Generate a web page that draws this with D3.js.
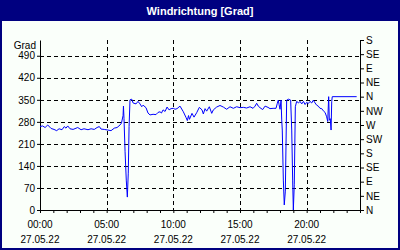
<!DOCTYPE html>
<html>
<head>
<meta charset="utf-8">
<script src="https://cdn.jsdelivr.net/npm/d3@7"></script>
<style>
  body { margin: 0; }
  svg { display: block; }
</style>
</head>
<body>
<svg id="chart" width="400" height="250"></svg>
<script>
const W = 400, H = 250;
const LEFT = 40, RIGHT = 360, TOP = 40, BOTTOM = 210;
const FONT = "'Liberation Sans', Arial, sans-serif";

const title = "Windrichtung [Grad]";
const unitLabel = "Grad";
const gradTicks = [0, 70, 140, 210, 280, 350, 420, 490];
const compassTicks = [0, 45, 90, 135, 180, 225, 270, 315, 360, 405, 450, 495, 540];
const compassNames = ["N", "NE", "E", "SE", "S", "SW", "W", "NW", "N", "NE", "E", "SE", "S"];
const timeTicks = [0, 5, 10, 15, 20];
const timeLabels = ["00:00", "05:00", "10:00", "15:00", "20:00"];
const dateLabel = "27.05.22";

// hours since midnight
const hours = [
  0, 0.2, 0.38, 0.58, 0.83, 1.05, 1.25, 1.43, 1.65, 1.82, 1.95, 2.08, 2.25, 2.48, 2.83,
  3.08, 3.3, 3.6, 3.83, 4.07, 4.28, 4.45, 4.58, 4.82, 5.08, 5.33, 5.57, 5.78, 6.0, 6.11,
  6.23, 6.26, 6.3, 6.38, 6.47, 6.55, 6.62, 6.68, 6.75, 6.88, 6.98, 7.2, 7.35, 7.5, 7.63,
  7.73, 7.95, 8.1, 8.25, 8.48, 8.7, 8.85, 9.0, 9.11, 9.23, 9.38, 9.53, 9.68, 9.83, 10.0,
  10.13, 10.28, 10.5, 10.75, 10.95, 11.05, 11.14, 11.21, 11.4, 11.55, 11.75, 11.95, 12.15,
  12.25, 12.38, 12.5, 12.7, 12.88, 13.0, 13.25, 13.5, 13.75, 14.0, 14.25, 14.5, 14.75,
  15.0, 15.25, 15.5, 15.75, 15.98, 16.13, 16.25, 16.37, 16.5, 16.7, 16.88, 17.1, 17.25,
  17.48, 17.7, 17.8, 17.87, 17.93, 18.0, 18.08, 18.13, 18.17, 18.25, 18.32, 18.4, 18.5,
  18.64, 18.8, 18.88, 18.95, 19.0, 19.07, 19.15, 19.25, 19.39, 19.5, 19.63, 19.76, 19.88,
  20.0, 20.12, 20.25, 20.38, 20.5, 20.63, 20.75, 20.87, 21.0, 21.13, 21.25, 21.38, 21.5,
  21.58, 21.65, 21.7, 21.77, 21.83, 21.88, 21.92, 23.75
];
// wind direction in degrees
const direction = [
  265, 267, 262, 270, 259, 256, 252, 258, 255, 265, 260, 267, 258, 256, 262,
  255, 258, 255, 258, 256, 262, 265, 257, 256, 254, 252, 260, 262, 270, 276,
  300, 330, 290, 185, 95, 41, 117, 265, 350, 352, 340, 337, 345, 337, 328,
  333, 325, 308, 302, 304, 303, 310, 312, 308, 318, 313, 327, 318, 322, 323,
  320, 322, 330, 312, 294, 284, 300, 288, 307, 295, 309, 326, 318,
  305, 322, 314, 328, 307, 318, 327, 332, 327, 320, 328, 323, 328,
  325, 326, 324, 328, 323, 330, 339, 330, 325, 319, 330, 326, 322,
  323, 323, 339, 349, 335, 320, 349, 286, 254, 95, 16, 60, 349,
  352, 349, 254, 95, 0, 80, 328, 345, 340, 345, 337, 345, 335,
  342, 338, 345, 340, 349, 340, 333, 330, 323, 322, 315, 310, 296,
  281, 360, 285, 290, 254, 345, 360, 360
];

const svg = d3.select("#chart");

const x = d3.scaleLinear().domain([0, 24]).range([LEFT, RIGHT]);
const y = d3.scaleLinear().domain([0, 540]).range([BOTTOM, TOP]);

// frame + title bar
svg.append("rect").attr("width", W).attr("height", H).attr("fill", "#000080");
svg.append("rect").attr("x", 2).attr("y", 21).attr("width", W - 4).attr("height", H - 23)
  .attr("fill", "#fafffa");
svg.append("text")
  .attr("x", W / 2).attr("y", 15)
  .attr("text-anchor", "middle")
  .attr("fill", "white")
  .style("font", `bold 11px ${FONT}`)
  .text(title);

// grid
const grid = svg.append("g")
  .attr("stroke", "black")
  .attr("stroke-dasharray", "4,3")
  .attr("shape-rendering", "crispEdges");

grid.selectAll("line.h")
  .data(gradTicks.filter(d => d > 0))
  .join("line")
  .attr("x1", LEFT).attr("x2", RIGHT)
  .attr("y1", d => Math.round(y(d)) + 0.5)
  .attr("y2", d => Math.round(y(d)) + 0.5);

grid.selectAll("line.v")
  .data(timeTicks.filter(d => d > 0))
  .join("line")
  .attr("y1", TOP).attr("y2", BOTTOM)
  .attr("x1", d => Math.round(x(d)) + 0.5)
  .attr("x2", d => Math.round(x(d)) + 0.5);

// axes
const styleAxis = g => {
  g.select(".domain").attr("stroke", "black");
  g.selectAll(".tick line").attr("stroke", "black");
  g.selectAll("text").attr("fill", "black").style("font", `10px ${FONT}`);
};

svg.append("g")
  .attr("transform", `translate(${LEFT},0)`)
  .call(d3.axisLeft(y).tickValues(gradTicks).tickSize(3).tickSizeOuter(0).tickPadding(2))
  .call(styleAxis);

svg.append("g")
  .attr("transform", `translate(${RIGHT},0)`)
  .call(d3.axisRight(y).tickValues(compassTicks).tickSize(4).tickSizeOuter(0).tickPadding(2)
    .tickFormat((d, i) => compassNames[i]))
  .call(styleAxis);

svg.append("g")
  .attr("transform", `translate(0,${BOTTOM})`)
  .call(d3.axisBottom(x).ticks(24).tickValues(d3.range(0, 25)).tickSize(3).tickSizeOuter(0)
    .tickFormat(""))
  .call(styleAxis);

const xl = svg.append("g").style("font", `10px ${FONT}`).attr("text-anchor", "middle");
xl.selectAll("text.t")
  .data(timeTicks)
  .join("text")
  .attr("x", d => x(d))
  .attr("y", 228)
  .text((d, i) => timeLabels[i]);
xl.selectAll("text.d")
  .data(timeTicks)
  .join("text")
  .attr("class", "d")
  .attr("x", d => x(d))
  .attr("y", 243)
  .text(dateLabel);

svg.append("text")
  .attr("x", 36).attr("y", 48.5)
  .attr("text-anchor", "end")
  .style("font", `10px ${FONT}`)
  .text(unitLabel);

// data line
const data = hours.map((h, i) => ({ h, v: direction[i] }));
svg.append("path")
  .datum(data)
  .attr("fill", "none")
  .attr("stroke", "#0000ff")
  .attr("stroke-width", 1)
  .attr("d", d3.line().x(d => x(d.h)).y(d => y(d.v)));
</script>
</body>
</html>
